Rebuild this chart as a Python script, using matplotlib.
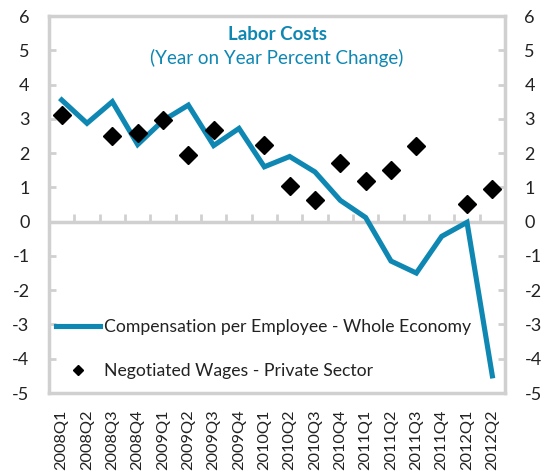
import matplotlib
matplotlib.use("Agg")
import matplotlib.pyplot as plt
import numpy as np

plt.rcParams['font.family'] = ['Lato', 'DejaVu Sans']

quarters = ["2008Q1", "2008Q2", "2008Q3", "2008Q4", "2009Q1", "2009Q2", "2009Q3",
            "2009Q4", "2010Q1", "2010Q2", "2010Q3", "2010Q4", "2011Q1", "2011Q2",
            "2011Q3", "2011Q4", "2012Q1", "2012Q2"]
compensation = [3.55, 2.87, 3.5, 2.25, 2.95, 3.4, 2.22, 2.72, 1.6, 1.9, 1.45, 0.62,
                0.12, -1.15, -1.5, -0.43, -0.02, -4.5]
negotiated = [3.1, np.nan, 2.5, 2.6, 2.96, 1.95, 2.66, np.nan, 2.24, 1.03, 0.63, 1.7,
              1.2, 1.5, 2.2, np.nan, 0.52, 0.95]
yticks = [-5, -4, -3, -2, -1, 0, 1, 2, 3, 4, 5, 6]

teal = '#0f87b3'
gray = '#d0d0d0'

fig = plt.figure(figsize=(5.52, 4.73), dpi=100)
ax = fig.add_axes([49/552, 1 - 393/473, (505 - 49)/552, (393 - 16)/473])

x = np.arange(len(quarters))
ax.plot(x, compensation, color=teal, lw=3.7, solid_joinstyle='miter',
        label='Compensation per Employee - Whole Economy', zorder=3)
ax.plot(x, negotiated, linestyle='none', marker='D', markersize=9, color='black',
        label='Negotiated Wages - Private Sector', zorder=4)

ax.set_xlim(-0.5, len(quarters) - 0.5)
ax.set_ylim(-5, 6)

# zero line with category-boundary ticks
ax.axhline(0, color=gray, lw=2.5, zorder=1)
bounds = np.arange(len(quarters)) + 0.5
ax.plot(bounds[:-1], np.zeros(len(bounds) - 1), linestyle='none', marker=2,
        markersize=6, markeredgewidth=2, color=gray, zorder=1)

for s in ax.spines.values():
    s.set_color(gray)
    s.set_linewidth(2.5)

ax.set_yticks(yticks)
ax.set_yticklabels([str(v) for v in yticks])
ax.tick_params(axis='y', direction='in', length=5, width=2, color=gray,
               labelsize=13, labelcolor='#222222', left=True, right=True,
               labelleft=True, labelright=True, pad=14)
ax.set_xticks(x)
ax.set_xticklabels(quarters, rotation=90)
ax.tick_params(axis='x', length=0, labelsize=11.8, labelcolor='#222222', pad=12)

ax.text(0.5, 0.952, 'Labor Costs', transform=ax.transAxes, ha='center', va='center',
        fontsize=13.5, fontweight='bold', color=teal)
ax.text(0.5, 0.888, '(Year on Year Percent Change)', transform=ax.transAxes,
        ha='center', va='center', fontsize=13.5, color=teal)

leg = ax.legend(loc='lower left', bbox_to_anchor=(-0.012, 0.005), frameon=False,
                fontsize=12.7, handlelength=2.5, handletextpad=0.25,
                labelspacing=1.55, borderaxespad=0.3, markerscale=0.6)
for t in leg.get_texts():
    t.set_color('#222222')

fig.savefig('out.png', dpi=100)
